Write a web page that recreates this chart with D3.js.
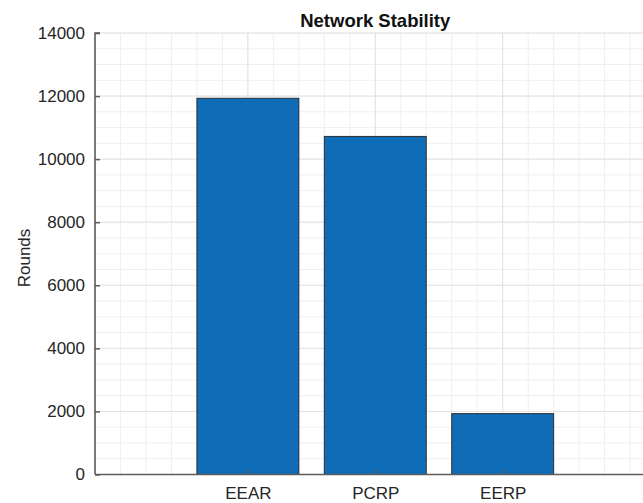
<!DOCTYPE html>
<html><head><meta charset="utf-8">
<script src="https://cdn.jsdelivr.net/npm/d3@7"></script>
<style>body{margin:0;background:#fff}svg{display:block}text{font-family:"Liberation Sans",Arial,sans-serif}</style>
</head><body><svg id="c" width="643" height="503"></svg>
<script>
const categories = ["EEAR", "PCRP", "EERP"];
const rounds = [11930, 10720, 1930];
const yTicks = [0, 2000, 4000, 6000, 8000, 10000, 12000, 14000];
const title = "Network Stability";
const yLabel = "Rounds";

const svg = d3.select("#c");
const L = 95, B = 474.5, T = 33;
const unit = 127.4;
const x = d3.scaleLinear().domain([-0.2, 4.2]).range([L, L + 4.4 * unit]);
const y = d3.scaleLinear().domain([0, 14000]).range([B, T]);
const g = svg.append("g");

// minor grid
const xMinor = d3.range(-0.2, 4.2001, 0.2);
const yMinor = d3.range(0, 14001, 500);
g.selectAll(".vmin").data(xMinor).join("line")
  .attr("x1", d => x(d)).attr("x2", d => x(d)).attr("y1", y(0)).attr("y2", y(14000))
  .attr("stroke", "#efefef").attr("stroke-width", 1);
g.selectAll(".hmin").data(yMinor).join("line")
  .attr("x1", x(-0.2)).attr("x2", x(4.2)).attr("y1", d => y(d)).attr("y2", d => y(d))
  .attr("stroke", "#efefef").attr("stroke-width", 1);
// major grid
g.selectAll(".hmaj").data(yTicks).join("line")
  .attr("x1", x(-0.2)).attr("x2", x(4.2)).attr("y1", d => y(d)).attr("y2", d => y(d))
  .attr("stroke", "#e3e3e3").attr("stroke-width", 1);
g.selectAll(".vmaj").data([1, 2, 3]).join("line")
  .attr("x1", d => x(d)).attr("x2", d => x(d)).attr("y1", y(0)).attr("y2", y(14000))
  .attr("stroke", "#e3e3e3").attr("stroke-width", 1);

// bars
g.selectAll(".bar").data(rounds).join("rect")
  .attr("x", (d, i) => x(i + 1 - 0.4)).attr("width", x(0.8) - x(0))
  .attr("y", d => y(d)).attr("height", d => y(0) - y(d))
  .attr("fill", "#0f6cb6").attr("stroke", "#2e2e2e").attr("stroke-width", 1);

// y axis
const yAxis = d3.axisLeft(y).tickValues(yTicks).tickSize(-5).tickPadding(10).tickFormat(d3.format("d"));
const ya = svg.append("g").attr("transform", `translate(${L},0)`).call(yAxis);
ya.select(".domain").attr("stroke", "#5c5c5c").attr("stroke-width", 1.6).attr("d", `M5,${T}H0V${B}`);
ya.selectAll(".tick line").attr("stroke", "#5c5c5c").attr("stroke-width", 1.5);
ya.selectAll(".tick text").attr("font-size", 17).attr("fill", "#262626").attr("x", -10);

// x axis
const xAxis = d3.axisBottom(x).tickValues([1, 2, 3]).tickSize(-5).tickPadding(12)
  .tickFormat((d, i) => categories[i]);
const xa = svg.append("g").attr("transform", `translate(0,${B})`).call(xAxis);
xa.select(".domain").attr("stroke", "#5c5c5c").attr("stroke-width", 1.6).attr("d", `M${L},0H${x(4.2)}`);
xa.selectAll(".tick line").attr("stroke", "#5c5c5c").attr("stroke-width", 1);
xa.selectAll(".tick text").attr("font-size", 17).attr("fill", "#262626");

// title
svg.append("text").attr("x", x(2)).attr("y", 27).attr("text-anchor", "middle")
  .attr("font-size", 18.5).attr("font-weight", "bold").attr("fill", "#111").text(title);
// y label
svg.append("text").attr("transform", "translate(30,258) rotate(-90)").attr("text-anchor", "middle")
  .attr("font-size", 17).attr("fill", "#262626").text(yLabel);
</script></body></html>
